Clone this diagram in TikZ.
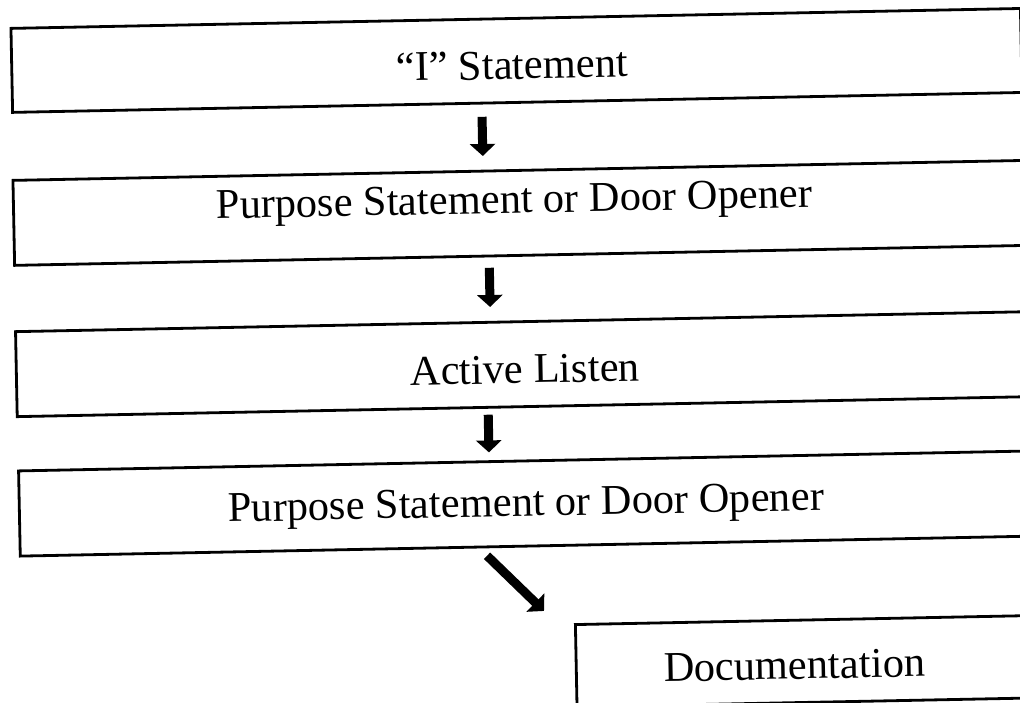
\documentclass[tikz,border=0pt]{standalone}
\usepackage{fontspec}
\setmainfont{Liberation Serif}
\usetikzlibrary{arrows.meta}
\begin{document}
\begin{tikzpicture}[x=1pt,y=1pt,
  box/.style={draw, line width=2.8pt, rectangle, inner sep=0pt, anchor=north west},
  lbl/.style={anchor=base, inner sep=0pt, font=\fontsize{42.4}{50}\selectfont},
  arr/.style={line width=9pt, -{Triangle[width=25pt,length=12pt]}}]
\useasboundingbox (0,0) rectangle (1020,-702);
\fill[white] (0,0) rectangle (1020,-702);
\clip (0,0) rectangle (1020,-702);
\begin{scope}[rotate=1.13, transform shape]
  % boxes
  \node[box, minimum width=1009.7pt, minimum height=84pt]  (b1) at (9,-27.2) {};
  \node[box, minimum width=1060pt, minimum height=85pt]    (b2) at (8,-179.2) {};
  \node[box, minimum width=1060pt, minimum height=85pt]    (b3) at (7.6,-330.5) {};
  \node[box, minimum width=1060pt, minimum height=85.2pt]  (b4) at (7.9,-469.8) {};
  \node[box, minimum width=500pt, minimum height=82.4pt]   (b5) at (561.6,-634.4) {};
  % labels
  \node[lbl] (t1) at (510.6,-89.1)  {“I” Statement};
  \node[lbl] (t2) at (510,-223.1)   {Purpose Statement or Door Opener};
  \node[lbl] (t3) at (517.6,-393.3) {Active Listen};
  \node[lbl] (t4) at (516,-526.3)   {Purpose Statement or Door Opener};
  \node[lbl] (t5) at (781.2,-694.6) {Documentation};
  % arrow columns
  \coordinate (x1) at (479.7,0);
  \coordinate (x2) at (484,0);
  \coordinate (x3) at (480,0);
  \draw[arr, shorten <=12.3pt, shorten >=13.7pt] (b1.south -| x1) -- (b2.north -| x1);
  \draw[arr, shorten <=10.4pt, shorten >=13.9pt] (b2.south -| x2) -- (b3.north -| x2);
  \draw[arr, shorten <=6pt, shorten >=7.8pt]     (b3.south -| x3) -- (b4.north -| x3);
  \draw[arr] ([shift={(468.1,-7.5)}]b4.south west) -- ([shift={(-29.7,12.8)}]b5.north west);
\end{scope}
\end{tikzpicture}
\end{document}
